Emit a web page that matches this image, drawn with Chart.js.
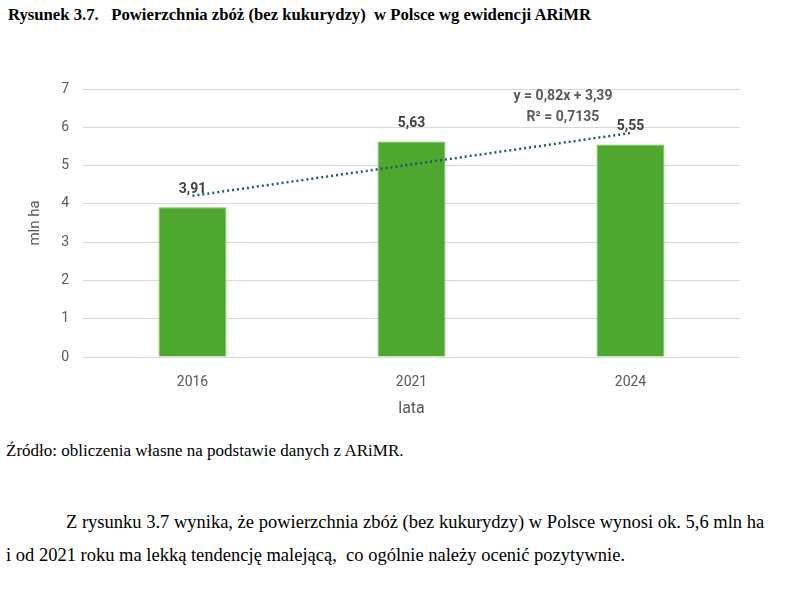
<!DOCTYPE html>
<html><head><meta charset="utf-8">
<script src="https://cdn.jsdelivr.net/npm/chart.js@4.4.1/dist/chart.umd.min.js"></script>
<style>
html,body{margin:0;padding:0;background:#fff;width:803px;height:605px;overflow:hidden;}
.t{position:absolute;white-space:nowrap;font-family:"Liberation Serif","Times New Roman",serif;color:#000;}
#title{left:8px;top:5px;font-size:16.7px;font-weight:bold;}
#src{left:6px;top:441px;font-size:17px;}
#p1{left:66px;top:512px;font-size:18.5px;}
#p2{left:6px;top:545px;font-size:18.5px;}
#wrap{position:absolute;left:0;top:60px;width:803px;height:359px;}
</style></head>
<body>
<div class="t" id="title">Rysunek 3.7.&nbsp;&nbsp; Powierzchnia zbóż (bez kukurydzy)&nbsp; w Polsce wg ewidencji ARiMR</div>
<div id="wrap"><canvas id="c" width="803" height="359"></canvas></div>
<div class="t" id="src">Źródło: obliczenia własne na podstawie danych z ARiMR.</div>
<div class="t" id="p1">Z rysunku 3.7 wynika, że powierzchnia zbóż (bez kukurydzy) w Polsce wynosi ok. 5,6 mln ha</div>
<div class="t" id="p2">i od 2021 roku ma lekką tendencję malejącą,&nbsp; co ogólnie należy ocenić pozytywnie.</div>
<script>
const categories = ['2016', '2021', '2024'];
const areaValues = [3.91, 5.63, 5.55];
const valueLabels = ['3,91', '5,63', '5,55'];
// linear trend as shown in the figure (y = 0,82x + 3,39) at x = 1, 2, 3
const trendValues = [4.21, 5.03, 5.85];
const trendLabel = ['y = 0,82x + 3,39', 'R² = 0,7135'];
const yTicks = [0, 1, 2, 3, 4, 5, 6, 7];

const labelPlugin = {
  id: 'valLabels',
  afterDatasetsDraw(chart) {
    const ctx = chart.ctx;
    const meta = chart.getDatasetMeta(1);
    ctx.save();
    ctx.font = 'bold 14px Roboto';
    ctx.fillStyle = '#404040';
    ctx.textAlign = 'center';
    ctx.textBaseline = 'middle';
    meta.data.forEach((bar, i) => {
      ctx.fillText(valueLabels[i], bar.x, bar.y - 18);
    });
    const xs = chart.scales.x, ys = chart.scales.y;
    const ex = (xs.getPixelForValue(1) + xs.getPixelForValue(2)) / 2 + 42;
    ctx.fillStyle = '#595959';
    ctx.font = 'bold 14px Roboto';
    ctx.fillText(trendLabel[0], ex, ys.getPixelForValue(6.8));
    ctx.fillText(trendLabel[1], ex, ys.getPixelForValue(6.25));
    ctx.restore();
  }
};

new Chart(document.getElementById('c'), {
  data: {
    labels: categories,
    datasets: [
      {
        type: 'line',
        data: trendValues,
        borderColor: '#1f5c6b',
        borderWidth: 2.5,
        borderDash: [2, 3],
        pointRadius: 0,
        fill: false,
        order: 0
      },
      {
        type: 'bar',
        data: areaValues,
        backgroundColor: '#4ea72e',
        borderColor: '#6cc24a',
        borderWidth: 1,
        categoryPercentage: 1,
        barPercentage: 0.31,
        order: 1
      }
    ]
  },
  options: {
    responsive: false,
    animation: false,
    devicePixelRatio: 1,
    layout: { padding: { left: 0, right: 63, top: 29, bottom: 0 } },
    plugins: { legend: { display: false }, tooltip: { enabled: false } },
    scales: {
      x: {
        grid: { display: false },
        border: { display: false },
        ticks: { color: '#595959', font: { family: 'Roboto', size: 14 }, padding: 9 },
        title: { display: true, text: 'lata', color: '#595959', font: { family: 'Roboto', size: 16 }, padding: 0 },
        afterFit(s) { s.height = 62; }
      },
      y: {
        min: 0, max: 7,
        afterBuildTicks(s) { s.ticks = yTicks.map(v => ({ value: v })); },
        grid: { color: '#d9d9d9', lineWidth: 1, drawTicks: false },
        border: { display: false },
        ticks: { color: '#595959', font: { family: 'Roboto', size: 14 }, padding: 14 },
        title: { display: true, text: 'mln ha', color: '#595959', font: { family: 'Roboto', size: 15 }, padding: { top: 26, bottom: 0 } },
        afterFit(s) { s.width = 83; }
      }
    }
  },
  plugins: [labelPlugin]
});
</script>
</body></html>
